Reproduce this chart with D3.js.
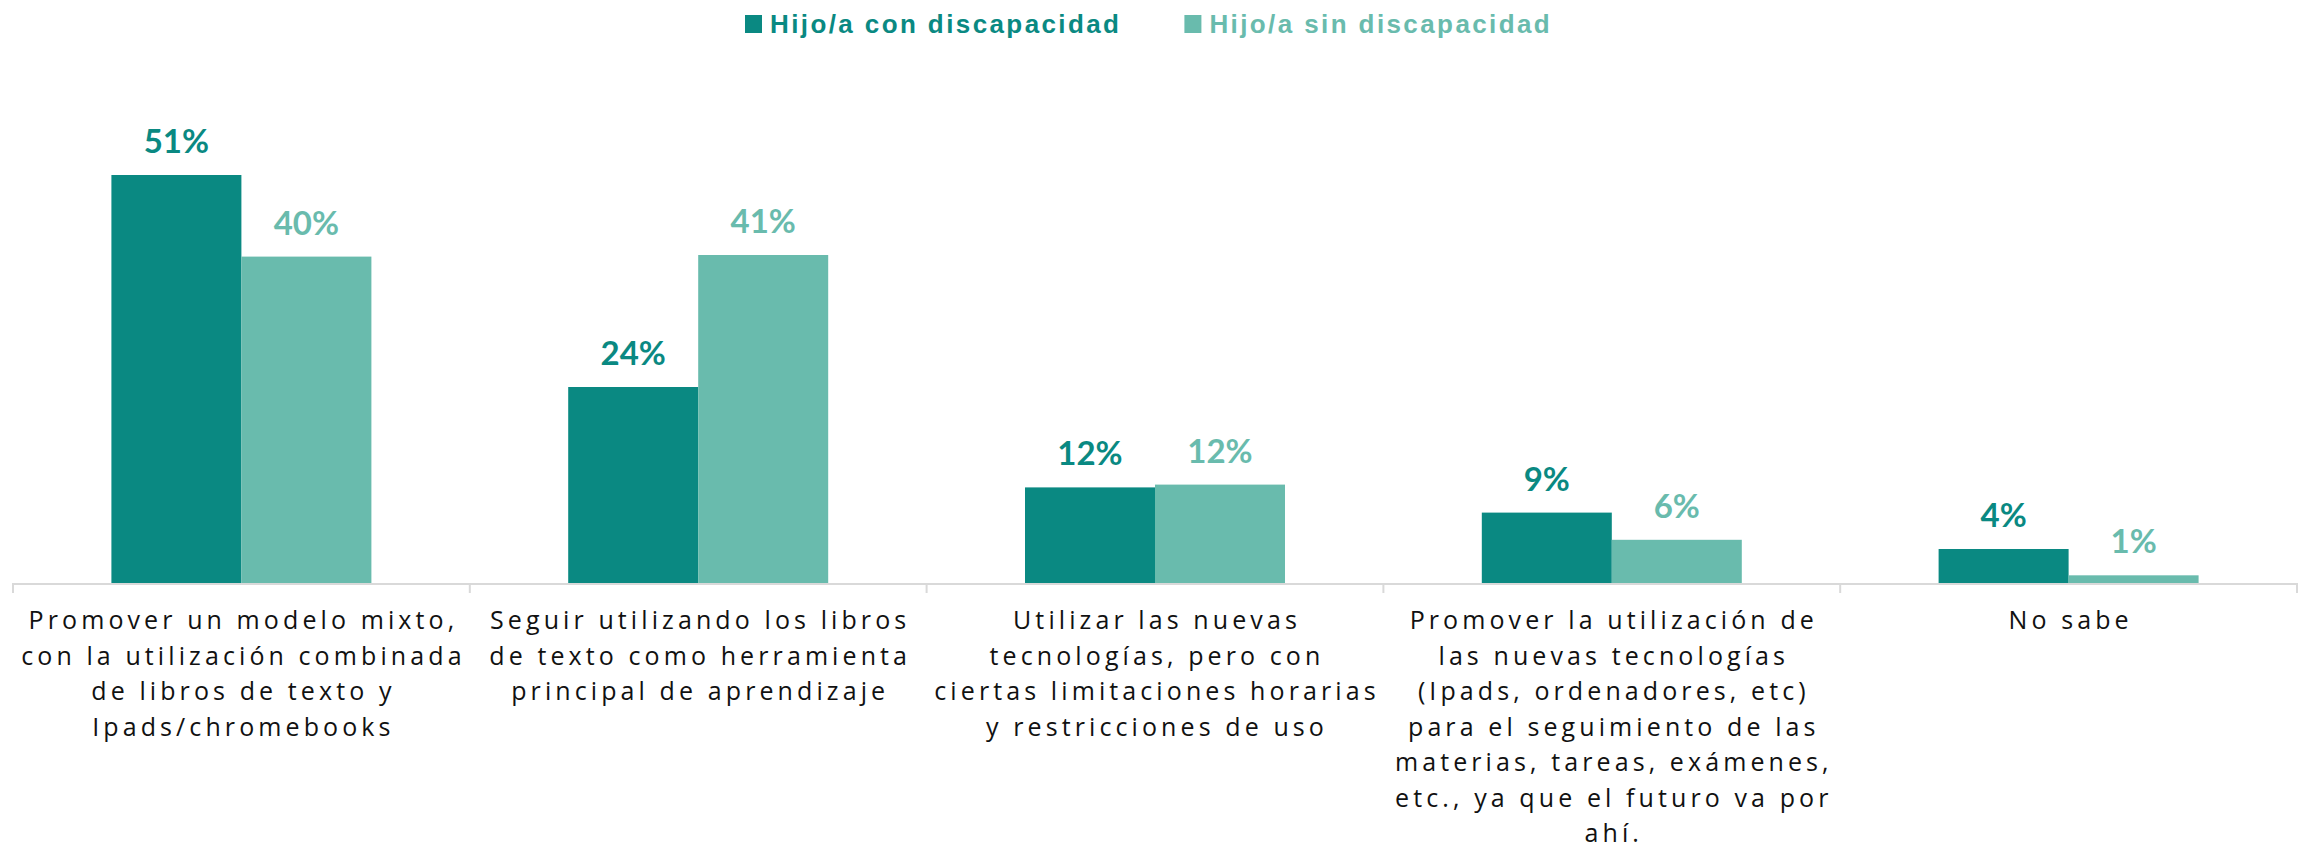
<!DOCTYPE html>
<html>
<head>
<meta charset="utf-8">
<script src="https://cdn.jsdelivr.net/npm/d3@7"></script>
<style>
  html, body { margin: 0; padding: 0; background: #ffffff; }
  svg { display: block; }
</style>
</head>
<body>
<svg id="chart" width="2306" height="848"></svg>
<script>
// ---- Data ----
const categories = ["mixto", "libros", "limitaciones", "nuevas", "nosabe"];
const categoryLines = [
  ["Promover un modelo mixto,", "con la utilización combinada", "de libros de texto y", "Ipads/chromebooks"],
  ["Seguir utilizando los libros", "de texto como herramienta", "principal de aprendizaje"],
  ["Utilizar las nuevas", "tecnologías, pero con", "ciertas limitaciones horarias", "y restricciones de uso"],
  ["Promover la utilización de", "las nuevas tecnologías", "(Ipads, ordenadores, etc)", "para el seguimiento de las", "materias, tareas, exámenes,", "etc., ya que el futuro va por", "ahí."],
  ["No sabe"]
];
const seriesNames = ["Hijo/a con discapacidad", "Hijo/a sin discapacidad"];
const conDiscapacidad = [51.0, 24.5, 11.95, 8.8, 4.25];
const sinDiscapacidad = [40.8, 41.0, 12.3, 5.4, 0.96];
const labelsCon = ["51%", "24%", "12%", "9%", "4%"];
const labelsSin = ["40%", "41%", "12%", "6%", "1%"];
const seriesColors = ["#0A8982", "#69BBAD"];

// ---- Layout ----
const svg = d3.select("#chart");
const baseY = 583;
const y = d3.scaleLinear().domain([0, 60]).range([baseY, baseY - 480]);
const x = d3.scaleBand().domain(categories).range([13, 2297]).paddingInner(0).paddingOuter(0);
const xs = d3.scaleBand().domain(seriesNames).range([0, x.bandwidth()]).paddingInner(0).paddingOuter(0.757);

const seriesData = [
  { name: seriesNames[0], values: conDiscapacidad, labels: labelsCon, color: seriesColors[0] },
  { name: seriesNames[1], values: sinDiscapacidad, labels: labelsSin, color: seriesColors[1] }
];

// Bars
seriesData.forEach(s => {
  const g = svg.append("g");
  const rows = categories.map((c, i) => ({ c, v: s.values[i], l: s.labels[i] }));
  g.selectAll("rect")
    .data(rows)
    .join("rect")
    .attr("x", d => x(d.c) + xs(s.name))
    .attr("y", d => y(d.v))
    .attr("width", xs.bandwidth())
    .attr("height", d => baseY - y(d.v))
    .attr("fill", s.color);
  g.selectAll("text")
    .data(rows)
    .join("text")
    .attr("x", d => x(d.c) + xs(s.name) + xs.bandwidth() / 2)
    .attr("y", d => y(d.v) - 22)
    .attr("text-anchor", "middle")
    .attr("font-family", "Lato, 'Open Sans', sans-serif")
    .attr("font-weight", "bold")
    .attr("font-size", 33)
    .attr("fill", s.color)
    .text(d => d.l);
});

// Axis line + ticks
const axisG = svg.append("g");
axisG.append("line")
  .attr("x1", x.range()[0]).attr("x2", x.range()[1])
  .attr("y1", baseY + 1).attr("y2", baseY + 1)
  .attr("stroke", "#D9D9D9").attr("stroke-width", 2);
const tickXs = categories.map(c => x(c)).concat([x.range()[1]]);
axisG.selectAll("line.tick")
  .data(tickXs)
  .join("line")
  .attr("class", "tick")
  .attr("x1", d => d).attr("x2", d => d)
  .attr("y1", baseY).attr("y2", baseY + 10)
  .attr("stroke", "#D9D9D9").attr("stroke-width", 2);

// Category labels
const catG = svg.append("g");
categories.forEach((c, i) => {
  const cx = x(c) + x.bandwidth() / 2 + 2;
  const t = catG.append("text")
    .attr("x", cx)
    .attr("y", 629)
    .attr("text-anchor", "middle")
    .attr("font-family", "'Open Sans', sans-serif")
    .attr("font-size", 25)
    .attr("fill", "#111111")
    .style("letter-spacing", "4.1px");
  categoryLines[i].forEach((line, j) => {
    t.append("tspan")
      .attr("x", cx)
      .attr("y", 629 + j * 35.5)
      .text(line);
  });
});

// Legend
const legend = svg.append("g");
let lx = 745;
seriesData.forEach(s => {
  legend.append("rect")
    .attr("x", lx).attr("y", 15)
    .attr("width", 17).attr("height", 18)
    .attr("fill", s.color);
  const txt = legend.append("text")
    .attr("x", lx + 25).attr("y", 33)
    .attr("font-family", "'Liberation Sans', Arial, sans-serif")
    .attr("font-weight", "bold")
    .attr("font-size", 26)
    .style("letter-spacing", "2.4px")
    .attr("fill", s.color)
    .text(s.name);
  lx = lx + 25 + txt.node().getComputedTextLength() + 63;
});
</script>
</body>
</html>
